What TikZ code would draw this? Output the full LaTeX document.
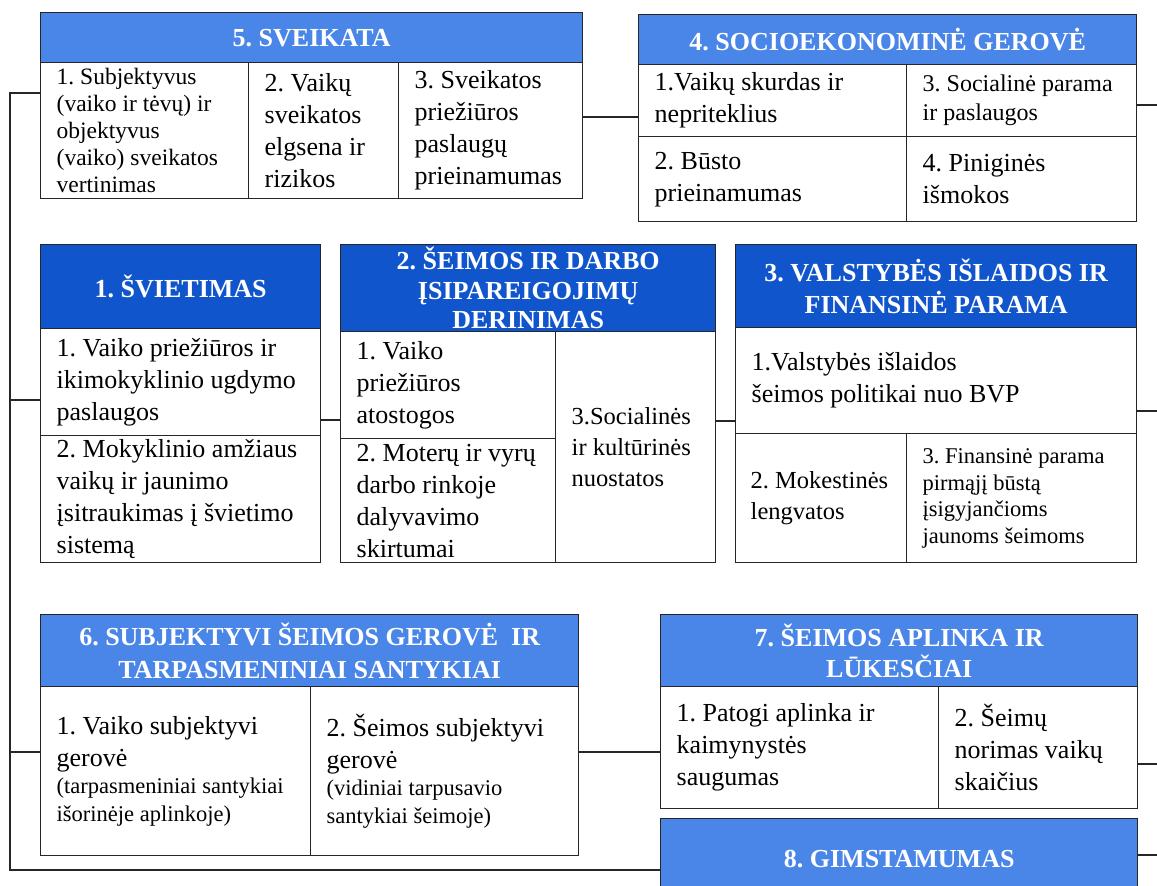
\documentclass[tikz,border=0pt]{standalone}
\usepackage{fontspec}
\setmainfont{Liberation Serif}
\frenchspacing
\definecolor{clrlight}{HTML}{4A86E8}
\definecolor{clrdark}{HTML}{1155CC}
\newcommand{\hdfont}{\fontsize{26}{32}\selectfont\bfseries}
\newcommand{\cellfont}{\fontsize{26}{32}\selectfont}
\newcommand{\smcellfont}{\fontsize{24}{29}\selectfont}
\newcommand{\tncellfont}{\fontsize{22.5}{26.5}\selectfont}
\tikzset{
	box/.style={draw=black!85, line width=1.4pt},
	head/.style={box, fill=clrlight, text=white, font=\hdfont, align=flush center, anchor=north west, inner sep=0pt},
	headdk/.style={head, fill=clrdark},
	cell/.style={box, fill=white, anchor=north west, align=flush left, inner xsep=16pt, inner ysep=0pt, font=\cellfont},
	link/.style={line width=1.4pt, draw=black!85}
}
\begin{document}
\begin{tikzpicture}[x=1pt,y=-1pt]
		\useasboundingbox (0,0) rectangle (1157,886);
		% 5. sveikata
		\node[head, minimum width=542pt, minimum height=50pt] (s5) at (40,12) {5. SVEIKATA};
		\node[cell, minimum width=208pt, minimum height=136pt, text width=176pt, font=\fontsize{23.5}{27}\selectfont] (s5a) at (40,62) {1. Subjektyvus\\(vaiko ir tėvų) ir\\objektyvus\\(vaiko) sveikatos\\vertinimas};
		\node[cell, minimum width=150pt, minimum height=136pt, text width=118pt] (s5b) at (248,62) {2. Vaikų\\sveikatos\\elgsena ir\\rizikos};
		\node[cell, minimum width=184pt, minimum height=136pt, text width=152pt] (s5c) at (398,62) {3. Sveikatos\\priežiūros\\paslaugų\\prieinamumas};
		% 4. socioekonomine gerove
		\node[head, minimum width=498pt, minimum height=50pt] (s4) at (638,14) {4. SOCIOEKONOMINĖ GEROVĖ};
		\node[cell, minimum width=268pt, minimum height=72pt, text width=236pt] (s4a) at (638,64) {1.Vaikų skurdas ir\\nepriteklius};
		\node[cell, minimum width=230pt, minimum height=72pt, text width=198pt, font=\smcellfont] (s4b) at (906,64) {3. Socialinė parama\\ir paslaugos};
		\node[cell, minimum width=268pt, minimum height=85pt, text width=236pt] (s4c) at (638,136) {2. Būsto\\prieinamumas};
		\node[cell, minimum width=230pt, minimum height=85pt, text width=198pt] (s4d) at (906,136) {4. Piniginės\\išmokos};
		% 1. svietimas
		\node[headdk, minimum width=280pt, minimum height=84pt] (s1) at (40,244) {1. ŠVIETIMAS};
		\node[cell, minimum width=280pt, minimum height=107pt, text width=248pt] (s1a) at (40,328) {1. Vaiko priežiūros ir\\ikimokyklinio ugdymo\\paslaugos};
		\node[cell, minimum width=280pt, minimum height=127pt, text width=248pt] (s1b) at (40,435) {2. Mokyklinio amžiaus\\vaikų ir jaunimo\\įsitraukimas į švietimo\\sistemą};
		% 2. seimos ir darbo
		\node[headdk, minimum width=375pt, minimum height=87pt, font=\fontsize{26}{29.5}\selectfont\bfseries] (s2) at (340,244) {2. ŠEIMOS IR DARBO\\ĮSIPAREIGOJIMŲ\\DERINIMAS};
		\node[cell, minimum width=215pt, minimum height=107pt, text width=183pt] (s2a) at (340,331) {1. Vaiko\\priežiūros\\atostogos};
		\node[cell, minimum width=215pt, minimum height=124pt, text width=183pt] (s2b) at (340,438) {2. Moterų ir vyrų\\darbo rinkoje\\dalyvavimo\\skirtumai};
		\node[cell, minimum width=160pt, minimum height=231pt, text width=128pt, font=\fontsize{24.5}{31}\selectfont] (s2c) at (555,331) {3.Socialinės\\ir kultūrinės\\nuostatos};
		% 3. valstybes islaidos
		\node[headdk, minimum width=401pt, minimum height=83pt] (s3) at (735,244) {3. VALSTYBĖS IŠLAIDOS IR\\FINANSINĖ PARAMA};
		\node[cell, minimum width=401pt, minimum height=106pt, text width=369pt] (s3a) at (735,327) {1.Valstybės išlaidos\\šeimos politikai nuo BVP};
		\node[cell, minimum width=171pt, minimum height=129pt, inner xsep=15pt, text width=141pt, font=\fontsize{24.5}{31}\selectfont] (s3b) at (735,433) {2. Mokestinės\\lengvatos};
		\node[cell, minimum width=230pt, minimum height=129pt, text width=198pt, font=\tncellfont] (s3c) at (906,433) {3. Finansinė parama\\pirmąjį būstą\\įsigyjančioms\\jaunoms šeimoms};
		% 6. subjektyvi gerove
		\node[head, minimum width=538pt, minimum height=72pt, font=\fontsize{26}{33}\selectfont\bfseries] (s6) at (40,614) {6. SUBJEKTYVI ŠEIMOS GEROVĖ\ \ IR\\TARPASMENINIAI SANTYKIAI};
		\node[cell, minimum width=270pt, minimum height=169pt, text width=238pt] (s6a) at (40,686) {1. Vaiko subjektyvi\\gerovė\par{\fontsize{22.5}{27.5}\selectfont (tarpasmeniniai santykiai\\išorinėje aplinkoje)\par}};
		\node[cell, minimum width=268pt, minimum height=169pt, text width=236pt] (s6b) at (310,686) {2. Šeimos subjektyvi\\gerovė\par{\fontsize{22.5}{27.5}\selectfont (vidiniai tarpusavio\\santykiai šeimoje)\par}};
		% 7. aplinka ir lukesciai
		\node[head, minimum width=477pt, minimum height=72pt, font=\fontsize{26}{31}\selectfont\bfseries] (s7) at (660,614) {7. ŠEIMOS APLINKA IR\\LŪKESČIAI};
		\node[cell, minimum width=278pt, minimum height=122pt, text width=246pt] (s7a) at (660,686) {1. Patogi aplinka ir\\kaimynystės\\saugumas};
		\node[cell, minimum width=199pt, minimum height=122pt, text width=167pt] (s7b) at (938,686) {2. Šeimų\\norimas vaikų\\skaičius};
		% 8. gimstamumas
		\node[head, minimum width=477pt, minimum height=80pt] (s8) at (660,818) {8. GIMSTAMUMAS};
		
		% connectors
		\coordinate (spT) at (10,93);
		\coordinate (spB) at (10,870);
		\coordinate (j1) at (10,400);
		\coordinate (j6) at (10,752);
		\draw[link] (s5a.west |- spT) -- (spT) -- (spB) -- (s8.west |- spB);
		\draw[link] (j1) -- (s1a.west |- j1);
		\draw[link] (j6) -- (s6a.west |- j6);
		\coordinate (j54) at (610,117);
		\coordinate (j12) at (330,420);
		\coordinate (j23) at (725,421);
		\coordinate (j67) at (620,752);
		\draw[link] (s5c.east |- j54) -- (s4a.west |- j54);
		\draw[link] (s1a.east |- j12) -- (s2a.west |- j12);
		\draw[link] (s2c.east |- j23) -- (s3a.west |- j23);
		\draw[link] (s6b.east |- j67) -- (s7a.west |- j67);
		\coordinate (r4) at (1160,105);
		\coordinate (r3) at (1160,411);
		\coordinate (r7) at (1160,764);
		\coordinate (r8) at (1160,855);
		\draw[link] (s4b.east |- r4) -- (r4);
		\draw[link] (s3a.east |- r3) -- (r3);
		\draw[link] (s7b.east |- r7) -- (r7);
		\draw[link] (s8.east |- r8) -- (r8);
\end{tikzpicture}
\end{document}
